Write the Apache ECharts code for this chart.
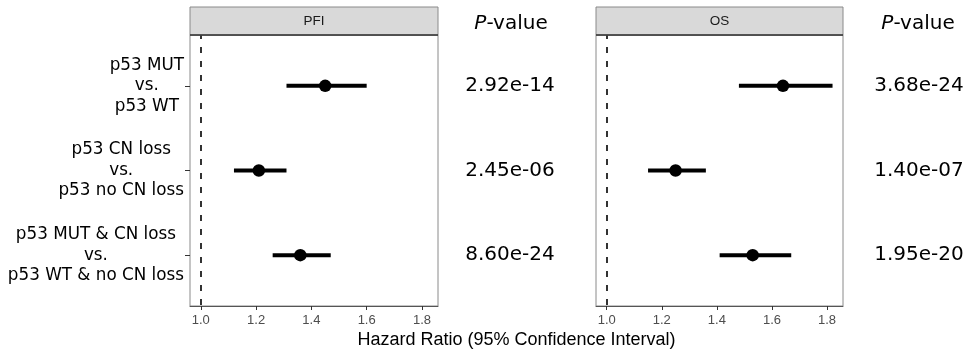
<!DOCTYPE html>
<html>
<head>
<meta charset="utf-8">
<script src="https://cdn.jsdelivr.net/npm/echarts@6/dist/echarts.min.js"></script>
<style>html,body{margin:0;padding:0;background:#fff;}#c{width:968px;height:353px;}</style>
</head>
<body>
<div id="c"></div>
<script>
// ---- data ----
const categories = [
  ['p53 MUT', 'vs.', 'p53 WT'],
  ['p53 CN loss', 'vs.', 'p53 no CN loss'],
  ['p53 MUT & CN loss', 'vs.', 'p53 WT & no CN loss']
];
const rows = [1, 2, 3];
const panels = ['PFI', 'OS'];
const pfiHR = [1.45, 1.21, 1.36];
const pfiLow = [1.31, 1.12, 1.26];
const pfiHigh = [1.60, 1.31, 1.47];
const osHR = [1.64, 1.25, 1.53];
const osLow = [1.48, 1.15, 1.41];
const osHigh = [1.82, 1.36, 1.67];
const pfiP = ['2.92e-14', '2.45e-06', '8.60e-24'];
const osP = ['3.68e-24', '1.40e-07', '1.95e-20'];
const xTicks = [1.0, 1.2, 1.4, 1.6, 1.8];
const refValue = 1;
const pHeader = 'P-value';
const xTitle = 'Hazard Ratio (95% Confidence Interval)';

// ---- layout ----
const LAB = "'Liberation Sans', Arial, sans-serif";
const DJV = "'DejaVu Sans', Verdana, sans-serif";
const X_MIN = 0.961, X_MAX = 1.858;
const panelBoxes = [
  {left: 190, top: 35, width: 248, height: 271},
  {left: 596, top: 35, width: 247, height: 271}
];
const pBoxes = [
  {left: 460, top: 35, width: 100, height: 271},
  {left: 870, top: 35, width: 100, height: 271}
];

const chart = echarts.init(document.getElementById('c'), null, {renderer: 'canvas'});

const grids = [];
const xAxes = [];
const yAxes = [];
const series = [];

function addPanel(i, hr, low, high) {
  const b = panelBoxes[i];
  grids.push({left: b.left, top: b.top, width: b.width, height: b.height,
    show: true, borderColor: '#8a8a8a', borderWidth: 1, backgroundColor: '#fff', containLabel: false});
  xAxes.push({
    type: 'value', gridIndex: i, min: X_MIN, max: X_MAX,
    splitLine: {show: false},
    axisLine: {show: true, lineStyle: {color: '#555', width: 1}},
    axisTick: {show: true, length: 4, lineStyle: {color: '#333', width: 1}, customValues: xTicks},
    axisLabel: {show: true, customValues: xTicks, margin: 8, color: '#4d4d4d', fontSize: 13, fontFamily: LAB,
      formatter: v => Number(v).toFixed(1)}
  });
  yAxes.push({
    type: 'value', gridIndex: i, min: 0.4, max: 3.6, inverse: true,
    splitLine: {show: false},
    axisLine: {show: false},
    axisTick: {show: i === 0, length: 5, lineStyle: {color: '#333', width: 1}, customValues: rows},
    axisLabel: {
      show: i === 0, customValues: rows, margin: 6, align: 'right',
      fontFamily: DJV, fontSize: 16.8, lineHeight: 20.5, color: '#000',
      formatter: v => categories[Math.round(v) - 1].map(s => '{c|' + s + '}').join('\n'),
      rich: {c: {align: 'center', fontFamily: DJV, fontSize: 16.8, lineHeight: 20.5, color: '#000'}}
    }
  });
  series.push({
    type: 'custom', xAxisIndex: i, yAxisIndex: i, z: 3,
    data: rows.map((r, k) => [low[k], high[k], r]),
    renderItem: function (params, api) {
      const p1 = api.coord([api.value(0), api.value(2)]);
      const p2 = api.coord([api.value(1), api.value(2)]);
      return {type: 'line', shape: {x1: p1[0], y1: p1[1], x2: p2[0], y2: p2[1]},
        style: {stroke: '#000', lineWidth: 4, lineCap: 'butt'}};
    }
  });
  series.push({
    type: 'scatter', xAxisIndex: i, yAxisIndex: i, z: 4,
    data: rows.map((r, k) => [hr[k], r]),
    symbol: 'circle', symbolSize: 12.5,
    itemStyle: {color: '#000', opacity: 1},
    silent: true,
    markLine: {
      silent: true, symbol: ['none', 'none'],
      label: {show: false},
      lineStyle: {color: '#000', type: [6, 8], dashOffset: 2, width: 1.6, opacity: 1},
      data: [{xAxis: refValue}]
    }
  });
}

function addP(j, pv) {
  const b = pBoxes[j];
  const gi = 2 + j;
  grids.push({left: b.left, top: b.top, width: b.width, height: b.height, show: false});
  xAxes.push({type: 'value', gridIndex: gi, min: 0, max: 1, show: false});
  yAxes.push({type: 'value', gridIndex: gi, min: 0.4, max: 3.6, inverse: true, show: false});
  series.push({
    type: 'scatter', xAxisIndex: gi, yAxisIndex: gi, silent: true,
    data: rows.map(r => [0.5, r]),
    symbolSize: 1, itemStyle: {color: 'rgba(0,0,0,0)', opacity: 1},
    label: {show: true, position: 'inside', color: '#000', opacity: 1, fontFamily: DJV, fontSize: 20,
      formatter: p => pv[p.dataIndex]}
  });
}

addPanel(0, pfiHR, pfiLow, pfiHigh);
addPanel(1, osHR, osLow, osHigh);
addP(0, pfiP);
addP(1, osP);

const graphics = [];
panels.forEach((name, i) => {
  const b = panelBoxes[i];
  graphics.push({type: 'rect', z: 10, shape: {x: b.left, y: 7, width: b.width, height: 28},
    style: {fill: '#d9d9d9', stroke: '#8a8a8a', lineWidth: 1}});
  graphics.push({type: 'line', z: 11, shape: {x1: b.left, y1: 35, x2: b.left + b.width, y2: 35},
    style: {stroke: '#333', lineWidth: 1.5}});
  graphics.push({type: 'text', z: 12, style: {text: name, x: b.left + b.width / 2, y: 21,
    align: 'center', verticalAlign: 'middle', fill: '#1a1a1a', fontSize: 13.5, fontFamily: LAB}});
});
pBoxes.forEach((b, j) => {
  graphics.push({type: 'text', z: 12, style: {
    text: '{i|' + pHeader.slice(0, 1) + '}{n|' + pHeader.slice(1) + '}',
    x: j === 0 ? 511 : 918, y: 24, align: 'center', verticalAlign: 'middle',
    fontFamily: DJV, fontSize: 20, fill: '#000',
    rich: {i: {fontStyle: 'italic', fontFamily: DJV, fontSize: 20, fill: '#000'},
           n: {fontFamily: DJV, fontSize: 20, fill: '#000'}}
  }});
});
graphics.push({type: 'text', z: 12, style: {text: xTitle, x: 516.5, y: 340,
  align: 'center', verticalAlign: 'middle', fill: '#000', fontSize: 18, fontFamily: LAB}});

chart.setOption({
  backgroundColor: '#fff',
  animation: false,
  grid: grids,
  xAxis: xAxes,
  yAxis: yAxes,
  series: series,
  graphic: graphics
});
</script>
</body>
</html>
